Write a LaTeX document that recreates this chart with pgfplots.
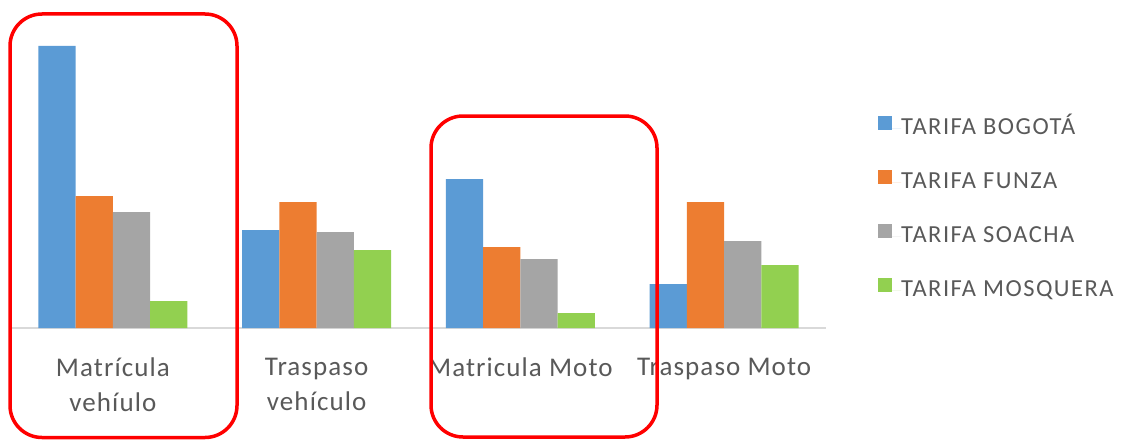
\documentclass[border=0pt]{standalone}
\usepackage{pgfplots}
\pgfplotsset{compat=1.18}
\usepackage{fontspec}
\setmainfont{Carlito}
\definecolor{cBlue}{HTML}{5B9BD5}
\definecolor{cOrange}{HTML}{ED7D31}
\definecolor{cGray}{HTML}{A5A5A5}
\definecolor{cGreen}{HTML}{92D050}
\definecolor{cText}{HTML}{595959}
\definecolor{cAxis}{HTML}{D9D9D9}
\definecolor{cRed}{HTML}{FF0000}
\begin{document}
\begin{tikzpicture}[x=1pt,y=1pt]
\useasboundingbox (0,0) rectangle (1147,440);
\begin{axis}[
  at={(11pt,112pt)}, anchor=south west,
  scale only axis, width=815pt, height=300pt,
  xmin=-0.5, xmax=3.5, ymin=0, ymax=300,
  ybar=0pt, bar width=37.25pt,
  axis y line=none, axis x line=bottom,
  x axis line style={-, draw=cAxis, line width=2pt},
  xtick={0,1,2,3},
  xticklabels={{Matrícula\\vehíulo},{Traspaso\\vehículo},{Matricula Moto},{Traspaso Moto}},
  major tick length=0pt,
  xticklabel style={align=center, inner sep=0pt, yshift=-29.5pt, text=cText,
    font=\fontsize{27}{35.5}\selectfont\addfontfeatures{LetterSpace=4}},
  legend style={at={(1.06,0.715)}, anchor=north west, draw=none, fill=none,
    font=\fontsize{24.5}{29}\selectfont\addfontfeatures{LetterSpace=6}, text=cText, row sep=30pt,
    nodes={inner sep=0pt, text height=17pt, text depth=5pt}},
  legend cell align=left,
  legend image code/.code={\fill[#1,draw=none] (0pt,-1pt) rectangle (14pt,13pt); \path (0pt,0pt) -- (23pt,0pt);},
]
\addplot[fill=cBlue, draw=none] coordinates {(0,282) (1,98) (2,149) (3,44)};
\addplot[fill=cOrange, draw=none] coordinates {(0,132) (1,126) (2,81) (3,126)};
\addplot[fill=cGray, draw=none] coordinates {(0,116) (1,96) (2,69) (3,87)};
\addplot[fill=cGreen, draw=none] coordinates {(0,27) (1,78) (2,15) (3,63)};
\legend{TARIFA BOGOTÁ, TARIFA FUNZA, TARIFA SOACHA, TARIFA MOSQUERA}
\end{axis}
\draw[cRed, line width=3.5pt, rounded corners=32pt] (10,2.5) rectangle (237,426);
\draw[cRed, line width=3.5pt, rounded corners=32pt] (431,3) rectangle (657,324);
\end{tikzpicture}
\end{document}
